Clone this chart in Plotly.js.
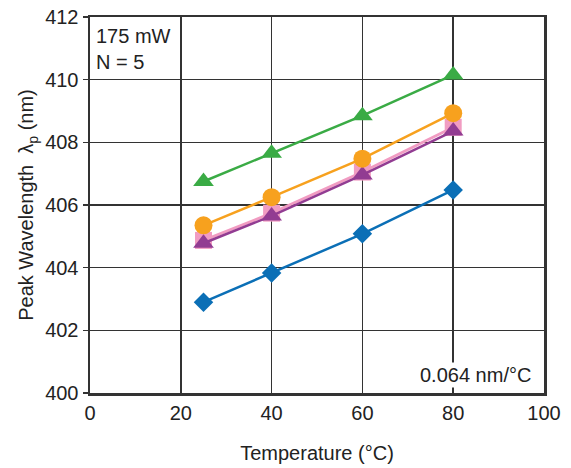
<!DOCTYPE html>
<html><head><meta charset="utf-8">
<script src="https://cdn.plot.ly/plotly-3.0.1.min.js"></script>
<style>html,body{margin:0;padding:0;background:#fff;}#chart{width:571px;height:468px;}</style>
</head><body><div id="chart"></div>
<script>
const temps = [25, 40, 60, 80];
const greenTri = [406.75, 407.65, 408.85, 410.15];
const orangeCirc = [405.35, 406.25, 407.48, 408.93];
const pinkSq = [404.87, 405.74, 407.05, 408.48];
const purpleTri = [404.78, 405.65, 406.96, 408.36];
const blueDia = [402.9, 403.83, 405.08, 406.48];
const xTicks = [0, 20, 40, 60, 80, 100];
const yTicks = [400, 402, 404, 406, 408, 410, 412];

function tr(y, color, symbol, size, lw) {
  return {x: temps, y: y, mode: 'lines+markers', type: 'scatter',
    line: {color: color, width: lw || 2.5},
    marker: {color: color, symbol: symbol, size: size, line: {width: 0}},
    showlegend: false, hoverinfo: 'skip'};
}
const data = [
  tr(blueDia, '#0b6fb6', 'diamond', 15),
  tr(pinkSq, '#f19cc2', 'square', 17, 2.8),
  tr(purpleTri, '#923c92', 'triangle-up', 18),
  tr(orangeCirc, '#f7a11e', 'circle', 18),
  tr(greenTri, '#3aab45', 'triangle-up', 18)
];
const font = {family: 'Liberation Sans, Arial, sans-serif', size: 20, color: '#222'};
const layout = {
  width: 571, height: 468,
  margin: {l: 90, r: 27, t: 17, b: 75},
  paper_bgcolor: '#fff', plot_bgcolor: '#fff',
  font: font,
  xaxis: {range: [0, 100], tickvals: xTicks, ticktext: xTicks.map(String),
    showgrid: true, gridcolor: '#333', gridwidth: 1.6, zeroline: false,
    showline: true, linecolor: '#333', linewidth: 2.5, mirror: true,
    ticks: '', tickfont: font,
    title: {text: 'Temperature (°C)', font: font, standoff: 24}},
  yaxis: {range: [400, 412], tickvals: yTicks, ticktext: yTicks.map(String),
    showgrid: true, gridcolor: '#333', gridwidth: 1.6, zeroline: false,
    showline: true, linecolor: '#333', linewidth: 2.5, mirror: true,
    ticks: 'outside', ticklen: 5, tickcolor: '#333', tickwidth: 1.3, tickfont: font,
    title: {text: 'Peak Wavelength  λ<sub>p</sub> (nm)', font: font, standoff: 6}},
  annotations: [
    {xref: 'paper', yref: 'paper', x: 0.008, y: 0.985, xanchor: 'left', yanchor: 'top',
     text: '175 mW<br>N = 5', showarrow: false, align: 'left', font: font,
     bgcolor: '#fff', borderpad: 1},
    {xref: 'paper', yref: 'paper', x: 0.975, y: 0.012, xanchor: 'right', yanchor: 'bottom',
     text: '0.064 nm/°C', showarrow: false, font: font, bgcolor: '#fff', borderpad: 1}
  ]
};
Plotly.newPlot('chart', data, layout, {staticPlot: true});
</script></body></html>
